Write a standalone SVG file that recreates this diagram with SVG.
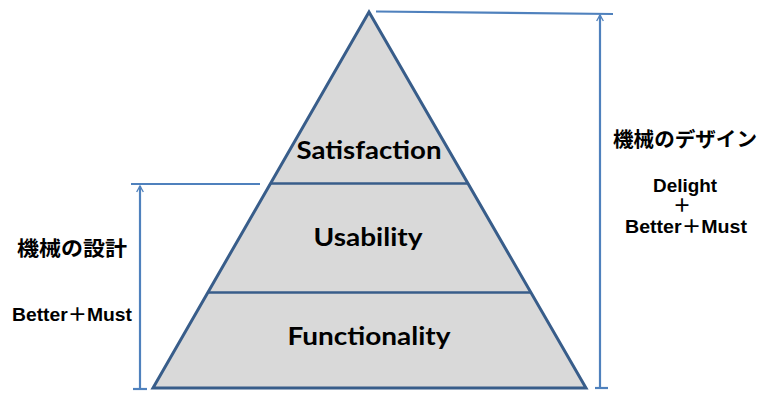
<svg xmlns="http://www.w3.org/2000/svg" width="773" height="396" viewBox="0 0 773 396">
<defs>
<marker id="arr" viewBox="0 0 12 12" refX="10" refY="6" markerWidth="8" markerHeight="8" orient="auto" markerUnits="userSpaceOnUse">
<path d="M1,1 L10,6 L1,11" fill="none" stroke="#4f81bd" stroke-width="2"/>
</marker>
</defs>
<style>
.layer{fill:#d9d9d9;stroke:#385d8a;stroke-width:3;stroke-linejoin:miter}
.div{stroke:#385d8a;stroke-width:2.5;fill:none}
.lbl{font-family:Lato,"Open Sans","Liberation Sans",sans-serif;font-weight:bold;font-size:25px;fill:#000;text-anchor:middle}
.conn{stroke:#4f81bd;stroke-width:2.2;fill:none}
.jp{font-family:"Noto Sans CJK JP","Liberation Sans",sans-serif;font-weight:bold;font-size:20px;fill:#000}
.en{font-family:"Liberation Sans","Noto Sans CJK JP",sans-serif;font-weight:bold;font-size:18px;fill:#000;text-anchor:middle}
</style>
<rect width="773" height="396" fill="#fff"/>
<g id="pyramid">
<polygon class="layer" points="369,12 586,388 153,388"/>
</g>
<g id="satisfaction">
<text class="lbl" x="369" y="159" textLength="145" lengthAdjust="spacingAndGlyphs">Satisfaction</text>
</g>
<g id="usability">
<line class="div" x1="271" y1="183.5" x2="468" y2="183.5"/>
<text class="lbl" x="368" y="246" textLength="109" lengthAdjust="spacingAndGlyphs">Usability</text>
</g>
<g id="functionality">
<line class="div" x1="208" y1="292.5" x2="530" y2="292.5"/>
<text class="lbl" x="369" y="345" textLength="163" lengthAdjust="spacingAndGlyphs">Functionality</text>
</g>
<g id="connectors">
<line class="conn" x1="376" y1="11.5" x2="613" y2="14"/>
<line class="conn" x1="600" y1="388" x2="600" y2="15" marker-end="url(#arr)"/>
<line class="conn" x1="595" y1="388" x2="608" y2="388"/>
<line class="conn" x1="131" y1="184" x2="260" y2="184"/>
<line class="conn" x1="140" y1="389" x2="140" y2="186" marker-end="url(#arr)"/>
<line class="conn" x1="133" y1="389" x2="147" y2="389"/>
</g>
<g id="left-label">
<text class="jp" x="17" y="256" textLength="110" lengthAdjust="spacingAndGlyphs">機械の設計</text>
<text class="en" x="72" y="321" textLength="120" lengthAdjust="spacingAndGlyphs">Better＋Must</text>
</g>
<g id="right-label">
<text class="jp" x="613" y="147" textLength="144" lengthAdjust="spacingAndGlyphs">機械のデザイン</text>
<text class="en" x="685" y="192" textLength="64" lengthAdjust="spacingAndGlyphs">Delight</text>
<text class="en" x="682" y="212">＋</text>
<text class="en" x="686" y="233" textLength="122" lengthAdjust="spacingAndGlyphs">Better＋Must</text>
</g>
</svg>
